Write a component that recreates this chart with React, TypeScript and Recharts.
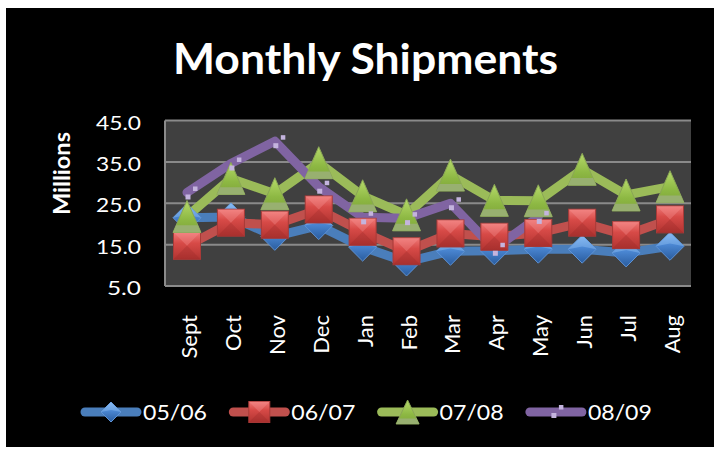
import React from 'react';
import { LineChart, Line, XAxis, YAxis, CartesianGrid, Legend } from 'recharts';

const months = ['Sept', 'Oct', 'Nov', 'Dec', 'Jan', 'Feb', 'Mar', 'Apr', 'May', 'Jun', 'Jul', 'Aug'];
const s0506 = [21.5, 21.7, 17.0, 19.6, 14.4, 10.8, 13.4, 13.5, 13.9, 13.9, 13.0, 14.6];
const s0607 = [14.7, 20.3, 19.8, 23.5, 18.1, 13.4, 17.7, 16.9, 17.8, 20.3, 17.3, 21.1];
const s0708 = [21.8, 31.0, 27.3, 34.8, 26.8, 22.2, 31.8, 25.7, 25.6, 33.2, 27.0, 29.0];
const s0809: (number | null)[] = [27.6, 34.6, 40.0, 29.0, 21.6, 21.4, 25.0, 14.0, 21.7, null, null, null];
const yTicks = [5, 15, 25, 35, 45];
const seriesNames = ['05/06', '06/07', '07/08', '08/09'];
const seriesKeys = ['s0506', 's0607', 's0708', 's0809'];
const seriesColors = ['#4A7EBB', '#C0504D', '#9BBB59', '#8064A2'];
const chartTitle = 'Monthly Shipments';
const yTitle = 'Millions';

const data = months.map((m, i) => ({
  month: m,
  s0506: s0506[i],
  s0607: s0607[i],
  s0708: s0708[i],
  s0809: s0809[i],
}));

const FONT = 'Lato, "Open Sans", sans-serif';

function diamond(cx: number, cy: number, s: number) {
  return (
    <g>
      <path d={`M${cx},${cy - s} L${cx + s},${cy} L${cx},${cy + s} L${cx - s},${cy} Z`} fill="url(#gBlue)" stroke="#5E93D6" strokeWidth={1} />
      <path d={`M${cx - s},${cy} L${cx},${cy - s} L${cx + s},${cy} L${cx},${cy - s * 0.2} Z`} fill="#8BBCF2" opacity={0.45} />
    </g>
  );
}

function square(cx: number, cy: number, h: number) {
  return (
    <g>
      <rect x={cx - h} y={cy - h} width={2 * h} height={2 * h} fill="url(#gRed)" stroke="#A83A38" strokeWidth={1} />
      <path d={`M${cx - h},${cy - h} L${cx + h},${cy - h} L${cx},${cy} Z`} fill="#F59595" opacity={0.35} />
      <path d={`M${cx - h},${cy + h} L${cx + h},${cy + h} L${cx},${cy} Z`} fill="#8E2422" opacity={0.25} />
    </g>
  );
}

function triangle(cx: number, cy: number, w: number, hh: number) {
  const by = cy + hh;
  const sy = cy + hh * 0.55;
  const sx = w * (1 - (by - sy) / (2 * hh));
  return (
    <g>
      <path d={`M${cx},${cy - hh} L${cx + w},${by} L${cx - w},${by} Z`} fill="url(#gGreen)" stroke="#8AA656" strokeWidth={1} />
      <path d={`M${cx - sx},${sy} L${cx + sx},${sy} L${cx + w},${by} L${cx - w},${by} Z`} fill="#98B070" />
    </g>
  );
}

function purpleMark(cx: number, cy: number) {
  return (
    <g>
      <rect x={cx - 1.5} y={cy + 2} width={5} height={5} fill="#C4B4DE" />
      <rect x={cx + 6} y={cy - 6} width={4.5} height={4.5} fill="#C4B4DE" />
    </g>
  );
}

const makeDot = (kind: number) => (props: any) => {
  const { cx, cy, index, value } = props;
  const key = `d${kind}-${index}`;
  if (cx == null || cy == null || value == null || Number.isNaN(cy)) return <g key={key} />;
  let el;
  if (kind === 0) el = diamond(cx, cy, 14);
  else if (kind === 1) el = square(cx, cy, 13.5);
  else if (kind === 2) el = triangle(cx, cy, 14, 16);
  else el = purpleMark(cx, cy);
  return <g key={key}>{el}</g>;
};

const XTick = (props: any) => {
  const { x, y, payload } = props;
  return (
    <text transform={`translate(${x + 10},${y}) rotate(-90)`} textAnchor="end" fill="#FFFFFF" fontFamily={FONT} fontSize={22}>
      {payload.value}
    </text>
  );
};

const YTick = (props: any) => {
  const { x, y, payload } = props;
  const s = Number(payload.value).toFixed(1);
  return (
    <text x={x} y={y + 9} textAnchor="end" fill="#FFFFFF" fontFamily={FONT} fontSize={19} textLength={s.length === 4 ? 45 : 34} lengthAdjust="spacingAndGlyphs">
      {s}
    </text>
  );
};

const renderLegend = () => {
  return (
    <svg width={714} height={40} style={{ position: 'absolute', left: 0, top: 0, overflow: 'visible' }}>
      {seriesNames.map((name, i) => {
        const x0 = 81 + i * 148.3;
        const x1 = x0 + 60;
        const cx = (x0 + x1) / 2;
        const cy = 17;
        let mk;
        if (i === 0) mk = diamond(cx, cy, 10);
        else if (i === 1) mk = square(cx, cy, 10.5);
        else if (i === 2) mk = triangle(cx, cy, 11.5, 12);
        else mk = purpleMark(cx - 3, cy - 1);
        return (
          <g key={name}>
            <line x1={x0 + 4} x2={x1 - 4} y1={cy} y2={cy} stroke={seriesColors[i]} strokeWidth={9} strokeLinecap="round" />
            {mk}
            <text x={x1 + 2} y={cy + 8} fill="#FFFFFF" fontFamily={FONT} fontSize={22} textLength={64} lengthAdjust="spacingAndGlyphs">
              {name}
            </text>
          </g>
        );
      })}
    </svg>
  );
};

export default function App() {
  return (
    <div style={{ position: 'absolute', left: 0, top: 0, width: 714, height: 449, background: '#FFFFFF' }}>
      <div style={{ position: 'absolute', left: 6, top: 8, width: 708, height: 439, background: '#000000' }} />
      <div style={{ position: 'absolute', left: 0, top: 0 }}>
        <LineChart width={714} height={449} data={data} margin={{ top: 120.5, right: 23, bottom: 103, left: 105 }}>
          <defs>
            <linearGradient id="gBlue" x1="0" y1="0" x2="0" y2="1">
              <stop offset="0%" stopColor="#86B9F2" />
              <stop offset="45%" stopColor="#4A86D2" />
              <stop offset="100%" stopColor="#2A5C9E" />
            </linearGradient>
            <linearGradient id="gRed" x1="0" y1="0" x2="0" y2="1">
              <stop offset="0%" stopColor="#F07A78" />
              <stop offset="40%" stopColor="#D74A47" />
              <stop offset="100%" stopColor="#B13431" />
            </linearGradient>
            <linearGradient id="gGreen" x1="0" y1="0" x2="0" y2="1">
              <stop offset="0%" stopColor="#B6DA6A" />
              <stop offset="60%" stopColor="#8DB843" />
              <stop offset="100%" stopColor="#7FA53A" />
            </linearGradient>
          </defs>
          <CartesianGrid horizontal vertical={false} stroke="#8A8A8A" strokeWidth={2} fill="#404040" />
          <XAxis
            dataKey="month"
            height={60}
            interval={0}
            padding={{ left: 22, right: 21 }}
            tickSize={0}
            tickMargin={29}
            tickLine={false}
            axisLine={{ stroke: '#8A8A8A', strokeWidth: 2 }}
            tick={<XTick />}
          />
          <YAxis
            width={60}
            domain={[5, 45]}
            ticks={yTicks}
            interval={0}
            tickSize={0}
            tickMargin={24}
            tickLine={false}
            axisLine={{ stroke: '#8A8A8A', strokeWidth: 2 }}
            tick={<YTick />}
          />
          <Legend
            verticalAlign="bottom"
            wrapperStyle={{ position: 'absolute', left: 0, top: 395, width: 714, height: 0 }}
            content={renderLegend}
          />
          {seriesKeys.map((k, i) => (
            <Line
              key={k}
              dataKey={k}
              name={seriesNames[i]}
              stroke={seriesColors[i]}
              strokeWidth={9}
              strokeLinecap="round"
              strokeLinejoin="round"
              dot={makeDot(i)}
              activeDot={false}
              isAnimationActive={false}
              connectNulls={false}
            />
          ))}
        </LineChart>
      </div>
      <svg width={714} height={449} style={{ position: 'absolute', left: 0, top: 0, pointerEvents: 'none' }}>
        <text x={365.5} y={74} textAnchor="middle" fill="#FFFFFF" fontFamily={FONT} fontWeight={700} fontSize={42} textLength={385} lengthAdjust="spacingAndGlyphs">
          {chartTitle}
        </text>
        <text transform="translate(70,173.5) rotate(-90)" textAnchor="middle" fill="#FFFFFF" fontFamily={FONT} fontWeight={700} fontSize={23} textLength={83} lengthAdjust="spacingAndGlyphs">
          {yTitle}
        </text>
      </svg>
    </div>
  );
}
